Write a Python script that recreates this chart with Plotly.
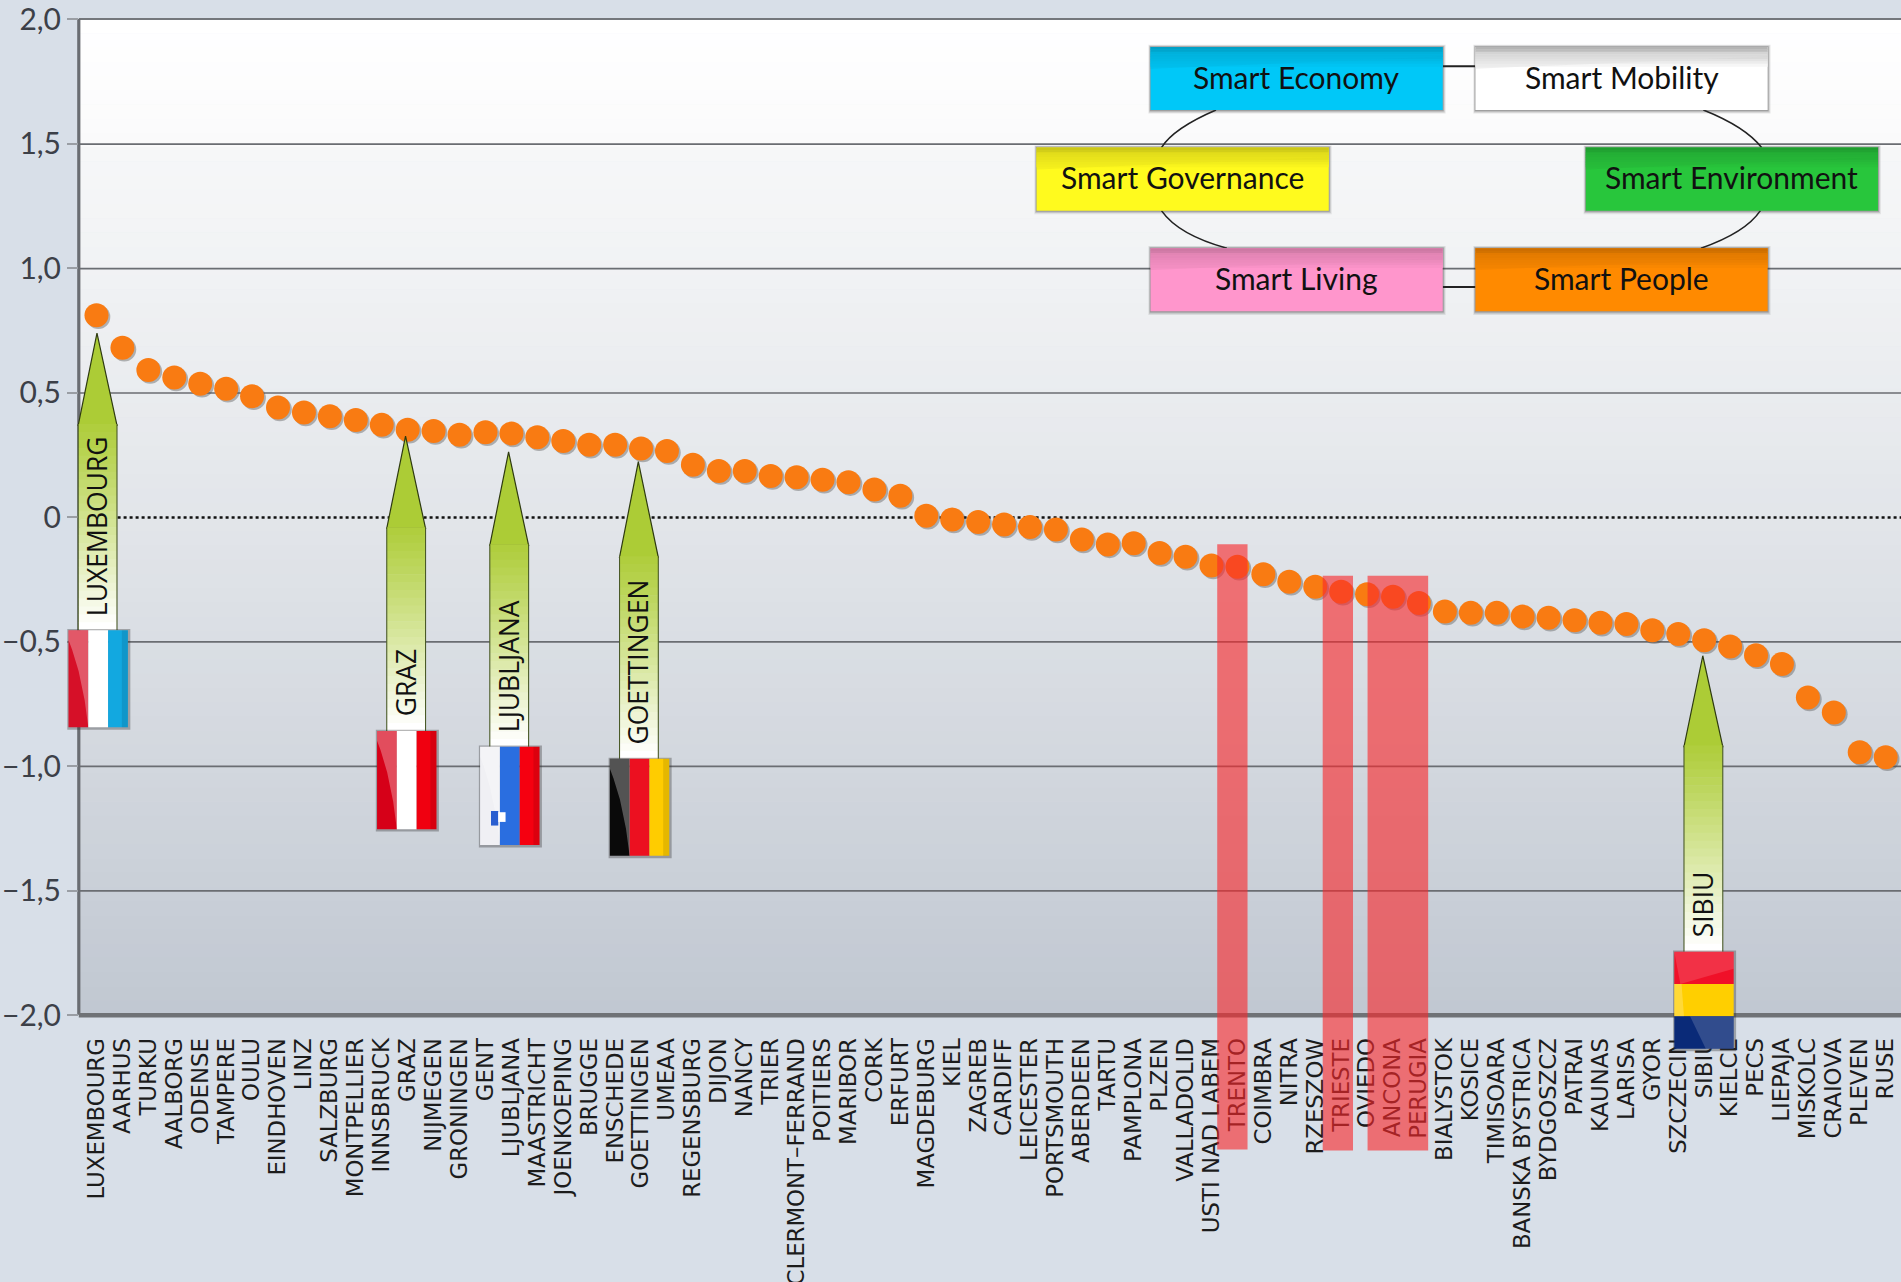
import plotly.graph_objects as go

categories = ["LUXEMBOURG","AARHUS","TURKU","AALBORG","ODENSE","TAMPERE","OULU","EINDHOVEN","LINZ","SALZBURG",
 "MONTPELLIER","INNSBRUCK","GRAZ","NIJMEGEN","GRONINGEN","GENT","LJUBLJANA","MAASTRICHT","JOENKOEPING","BRUGGE",
 "ENSCHEDE","GOETTINGEN","UMEAA","REGENSBURG","DIJON","NANCY","TRIER","CLERMONT\u2013FERRAND","POITIERS","MARIBOR",
 "CORK","ERFURT","MAGDEBURG","KIEL","ZAGREB","CARDIFF","LEICESTER","PORTSMOUTH","ABERDEEN","TARTU",
 "PAMPLONA","PLZEN","VALLADOLID","USTI NAD LABEM","TRENTO","COIMBRA","NITRA","RZESZOW","TRIESTE","OVIEDO",
 "ANCONA","PERUGIA","BIALYSTOK","KOSICE","TIMISOARA","BANSKA BYSTRICA","BYDGOSZCZ","PATRAI","KAUNAS","LARISA",
 "GYOR","SZCZECIN","SIBIU","KIELCE","PECS","LIEPAJA","MISKOLC","CRAIOVA","PLEVEN","RUSE"]
values = [0.81,0.68,0.59,0.56,0.535,0.515,0.485,0.44,0.42,0.405,
 0.39,0.37,0.35,0.345,0.33,0.34,0.335,0.32,0.305,0.29,
 0.29,0.275,0.265,0.21,0.185,0.185,0.165,0.16,0.15,0.14,
 0.11,0.085,0.005,-0.01,-0.02,-0.03,-0.04,-0.05,-0.09,-0.11,
 -0.105,-0.145,-0.16,-0.195,-0.2,-0.23,-0.26,-0.28,-0.30,-0.31,
 -0.32,-0.345,-0.38,-0.385,-0.385,-0.40,-0.405,-0.415,-0.425,-0.43,
 -0.455,-0.47,-0.495,-0.52,-0.555,-0.59,-0.725,-0.785,-0.945,-0.965]
y_ticks = [2,1.5,1,0.5,0,-0.5,-1,-1.5,-2]
y_labels = ["2,0","1,5","1,0","0,5","0","\u22120,5","\u22121,0","\u22121,5","\u22122,0"]

W,H = 1901,1282
D = 1901/1568
L,T,B,R = 79,19.4,1015,1901
X0,DX = 96.5,25.93
def X(d): return (d*D-L)/(R-L)
def Y(d): return (B-d*D)/(B-T)
def mix(a,b,t): return "rgb(%d,%d,%d)"%tuple(round(a[i]+(b[i]-a[i])*t) for i in range(3))

shapes=[]; notes=[]
def rect(x0,y0,x1,y1,color,layer="above",op=1,line=None):
    shapes.append(dict(type="rect",xref="paper",yref="paper",x0=X(x0),x1=X(x1),y0=Y(y0),y1=Y(y1),
        fillcolor=color,opacity=op,layer=layer,line=line or dict(width=0)))
def poly(pts,color,layer="above",op=1,lc=None,lw=0):
    p="M "+" L ".join(f"{X(a):.5f},{Y(b):.5f}" for a,b in pts)+" Z"
    shapes.append(dict(type="path",xref="paper",yref="paper",path=p,fillcolor=color,opacity=op,layer=layer,
        line=dict(width=lw,color=lc or "rgba(0,0,0,0)")))
def curve(a,c,b,color="#222",w=1.6):
    p=f"M {X(a[0]):.5f},{Y(a[1]):.5f} Q {X(c[0]):.5f},{Y(c[1]):.5f} {X(b[0]):.5f},{Y(b[1]):.5f}"
    shapes.append(dict(type="path",xref="paper",yref="paper",path=p,layer="above",line=dict(color=color,width=w)))
def seg(x0,y0,x1,y1,color="#666",w=1.6,dash="solid",layer="below"):
    shapes.append(dict(type="line",xref="paper",yref="paper",x0=X(x0),x1=X(x1),y0=Y(y0),y1=Y(y1),layer=layer,
        line=dict(color=color,width=w,dash=dash)))

# plot background gradient
n=70
for i in range(n):
    y0=16+(837-16)*i/n; y1=16+(837-16)*(i+1)/n+0.4
    if y0<119: c=mix((255,255,255),(250,250,251),(y0-16)/103)
    else: c=mix((246,247,248),(192,199,209),((y0-119)/718)**1.15)
    rect(65,y0,1568,min(y1,837),c,layer="below")

# grid
for v in y_ticks:
    yy=427-v*205.25
    if v==0: seg(97,yy,1568,yy,"#111",2.4,"dot")
    elif abs(v)<2: seg(65,yy,1568,yy,"#6a6d72",1.7)
seg(65,16,1568,16,"#74777c",2.2)
seg(65,16,65,837,"#6a6d72",3.2)
seg(65,837.5,1568,837.5,"#6f7276",4.5)

# pins: label, centre, tip, shoulder, bottom, flag bottom (display px), flag stripes
pins=[("LUXEMBOURG",80.5,275,350,520,600,[(214,16,40),(255,255,255),(18,168,224)],"v"),
      ("GRAZ",335,360,435,603,684,[(214,0,24),(255,255,255),(240,0,16)],"v"),
      ("LJUBLJANA",420,373,449,616,697,[(240,240,244),(42,110,224),(245,0,16)],"v"),
      ("GOETTINGEN",527,381,459,626,706,[(10,10,10),(236,16,32),(255,204,0)],"v"),
      ("SIBIU",1405,541,615,785,865,[(240,16,40),(255,207,0),(10,42,120)],"h")]
for name,cx,tip,sh,bt,fb,cols,ori in pins:
    g0=(172,204,54); g1=(255,255,255)
    poly([(cx-0.5,tip),(cx+16,sh+1),(cx-16,sh+1)],mix(g0,g0,0),lc="#2e3a10",lw=1.2)
    k=26
    for j in range(k):
        a=sh+(bt-sh)*j/k; b=sh+(bt-sh)*(j+1)/k+0.5
        rect(cx-16,a,cx+16,min(b,bt),mix((176,206,62),g1,min(1,(j/(k-1))**1.1)))
    seg(cx-16,sh,cx-16,bt,"#4a5a28",1.1,layer="above")
    seg(cx+16,sh,cx+16,bt,"#4a5a28",1.1,layer="above")
    # flag
    fx0,fx1=cx-24,cx+25
    sw=(fx1-fx0)/3
    h=fb-bt
    rect(fx0-1,bt-1,fx1+2,fb+2,"rgba(50,50,50,0.35)")
    if ori=="v":
        for j,c in enumerate(cols):
            rect(fx0+j*sw,bt,fx0+(j+1)*sw,fb,mix(c,c,0))
        poly([(fx0,bt),(fx0+sw,bt),(fx0+sw,fb),(fx0+sw-3,bt+.72*h),(fx0+sw-8,bt+.42*h),(fx0+3,bt+.2*h),(fx0,bt+.1*h)],"#ffffff",op=0.3)
        poly([(fx1-5,bt),(fx1,bt),(fx1,fb),(fx1-5,fb)],"#000000",op=0.1)
    else:
        for j,c in enumerate(cols):
            rect(fx0,bt+j*h/3,fx1,bt+(j+1)*h/3,mix(c,c,0))
        poly([(fx0,bt),(fx1,bt),(fx1,bt+14),(fx0+5,bt+h/3)],"#ffffff",op=0.14)
        poly([(fx0,bt+h/3),(fx0+6,bt+h/3),(fx0+8,bt+2*h/3),(fx0,bt+2*h/3)],"#ffffff",op=0.22)
        poly([(fx0+13,bt+2*h/3),(fx1,bt+2*h/3),(fx1,fb),(fx0+26,fb)],"#ffffff",op=0.16)
    if name=="LJUBLJANA":
        rect(fx0+9,fb-28,fx0+15,fb-16,"#2a5fd0")
        rect(fx0+15,fb-27,fx0+21,fb-19,"#ffffff")
    notes.append(dict(text=name,xref="paper",yref="paper",x=X(cx-0.5),y=Y(bt-10),textangle=-90,xanchor="center",yanchor="bottom",
        showarrow=False,font=dict(family="Open Sans",size=26.5,color="#111")))

# highlighted cities
bands=[(1004,1029,449,948),(1091,1116,475,949),(1128,1178,475,949)]
for a,b,c,d in bands:
    rect(a,c,b,d,"#f8282c",op=0.62)

# connectors
curve((1003,91),(968,106),(958,122)); curve((958,174),(972,194),(1012,205))
curve((1405,91),(1440,105),(1453,122)); curve((1452,174),(1440,192),(1403,205))
seg(1190,55,1217,55,"#222",2,layer="above"); seg(1190,237,1217,237,"#222",2,layer="above")

# smart boxes
boxes=[("Smart Economy",949,39,(0,200,248)),("Smart Mobility",1217,39,(255,255,255)),
       ("Smart Governance",855,122,(255,250,30)),("Smart Environment",1308,122,(40,198,60)),
       ("Smart Living",949,205,(255,150,204)),("Smart People",1217,205,(255,138,0))]
for text,x0,y0,c in boxes:
    x1,y1=x0+241,y0+52
    for e,o in ((3,0.10),(2,0.16),(1,0.28)):
        rect(x0-e*.6,y0-e*.6,x1+e*.8,y1+e,"#333333",op=o)
    rect(x0,y0,x1,y1,mix(c,c,0))
    dark=(c[0]*0.8,c[1]*0.8,c[2]*0.8) if c!=(255,255,255) else (180,180,180)
    for j in range(8):
        rect(x0,y0+j*2,x1,y0+(j+1)*2+0.3,mix(dark,c,j/8))
    poly([(x0,y0+18),(x0,y0+4),(x1,y0+4),(x1,y0+8)],mix(dark,c,0.6),op=0.5)
    notes.append(dict(text=text,xref="paper",yref="paper",x=X(x0+120.5),y=Y(y0+24.5),showarrow=False,
        xanchor="center",yanchor="middle",font=dict(family="Lato",size=30,color="#111")))

xs=list(range(len(categories)))
fig=go.Figure()
fig.add_trace(go.Scatter(x=[i+0.07 for i in xs],y=[v-0.007 for v in values],mode="markers",hoverinfo="skip",
    marker=dict(size=24,color="rgba(80,80,80,0.4)"),showlegend=False))
fig.add_trace(go.Scatter(x=xs,y=values,mode="markers",marker=dict(size=24,color="#f97b12"),showlegend=False))
fig.update_layout(width=W,height=H,autosize=False,margin=dict(l=L,r=W-R,t=T,b=H-B,autoexpand=False),
    paper_bgcolor="#d8dfe8",plot_bgcolor="rgba(0,0,0,0)",shapes=shapes,annotations=notes,showlegend=False,
    xaxis=dict(range=[(L-X0)/DX,(R-X0)/DX],tickmode="array",tickvals=xs,ticktext=categories,tickangle=-90,
        showgrid=False,zeroline=False,showline=False,ticks="outside",ticklen=13,tickcolor="rgba(0,0,0,0)",
        ticklabeloverflow="allow",automargin=False,
        tickfont=dict(family="DejaVu Sans",size=22.8,color="#1c1c1c")),
    yaxis=dict(range=[-2,2],tickmode="array",tickvals=y_ticks,ticktext=y_labels,showgrid=False,zeroline=False,showline=False,
        ticks="outside",ticklen=11,tickcolor="#9a9ea4",tickwidth=1.5,ticklabeloverflow="allow",automargin=False,
        tickfont=dict(family="Lato",size=30,color="#3c4048")))
fig.write_html("out.html",config=dict(displayModeBar=False),
    post_script="document.body.style.margin='0';document.body.style.background='#d8dfe8';document.documentElement.style.overflow='hidden';")
